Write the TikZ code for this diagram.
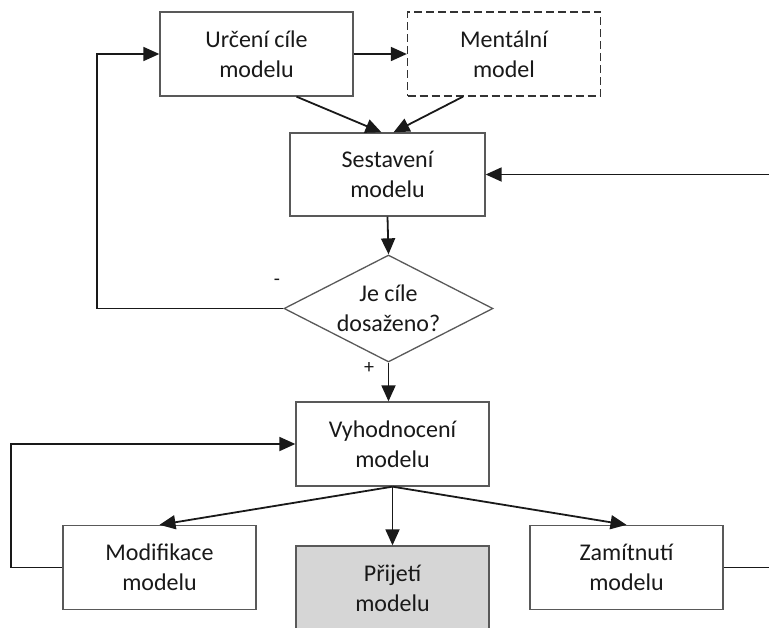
\documentclass[tikz,border=0pt]{standalone}
\usepackage{fontspec}
\setmainfont{Carlito}
\usetikzlibrary{arrows.meta,shapes.geometric}
\begin{document}
\begin{tikzpicture}[x=1pt,y=-1pt,
  every node/.style={font=\fontsize{24}{30}\selectfont, align=center, text=black!90},
  box/.style={draw=black!65, line width=1.3pt, fill=white, minimum width=193pt, minimum height=84pt, inner sep=0pt},
  dashbox/.style={box, dashed, dash pattern=on 8pt off 4pt, draw=black!80},
  accept/.style={box, fill=black!16},
  decision/.style={diamond, draw=black!65, line width=1.3pt, fill=white, aspect=1.95, minimum width=209pt, minimum height=107pt, inner sep=0pt},
  flow/.style={line width=1.8pt, draw=black!90, -{Triangle[length=16pt,width=14pt]}},
  plain/.style={line width=1.8pt, draw=black!90},
  sign/.style={font=\fontsize{20}{22}\selectfont}
]
\useasboundingbox (0,0) rectangle (769,627);
\clip (0,0) rectangle (769,627);

% boxes of the process
\node[box] (goal) at (256.5,54) {Určení cíle\\modelu};
\node[dashbox] (mental) at (504,54) {Mentální\\model};
\node[box, minimum width=195pt, minimum height=83pt] (build) at (387.5,174.5) {Sestavení\\modelu};
\node[decision] (check) at (388.5,308.5) {Je cíle\\dosaženo?};
\node[box] (eval) at (392.5,444) {Vyhodnocení\\modelu};
\node[box] (modify) at (159.5,567.5) {Modifikace\\modelu};
\node[accept] (accept) at (392.5,588) {Přijetí\\modelu};
\node[box] (reject) at (626.5,567.5) {Zamítnutí\\modelu};

% free ends at the right margin
\coordinate (inR) at (769,174.5);
\coordinate (outR) at (769,567.5);

% connectors
\draw[flow] (goal) -- (mental);
\draw[flow] ([xshift=40pt]goal.south) -- ([xshift=-6pt]build.north);
\draw[flow] ([xshift=-41pt]mental.south) -- ([xshift=6pt]build.north);
\draw[flow] (inR) -- (build.east);
\draw[flow] (build.south) -- (check.north);
\draw[flow] (check.west) -- (97,308.5) |- (goal.west);
\draw[flow] (check.south) -- (check.south |- eval.north);
\draw[flow] (eval.south) -- (modify.north);
\draw[flow] (eval.south) -- (eval.south |- accept.north);
\draw[flow] (eval.south) -- (reject.north);
\draw[flow] (modify.west) -- (11,567.5) |- (eval.west);
\draw[plain] (reject.east) -- (outR);

% branch labels
\node[sign] (minus) at (277,282) {-};
\node[sign] (plus) at (369,368) {+};
\end{tikzpicture}
\end{document}
